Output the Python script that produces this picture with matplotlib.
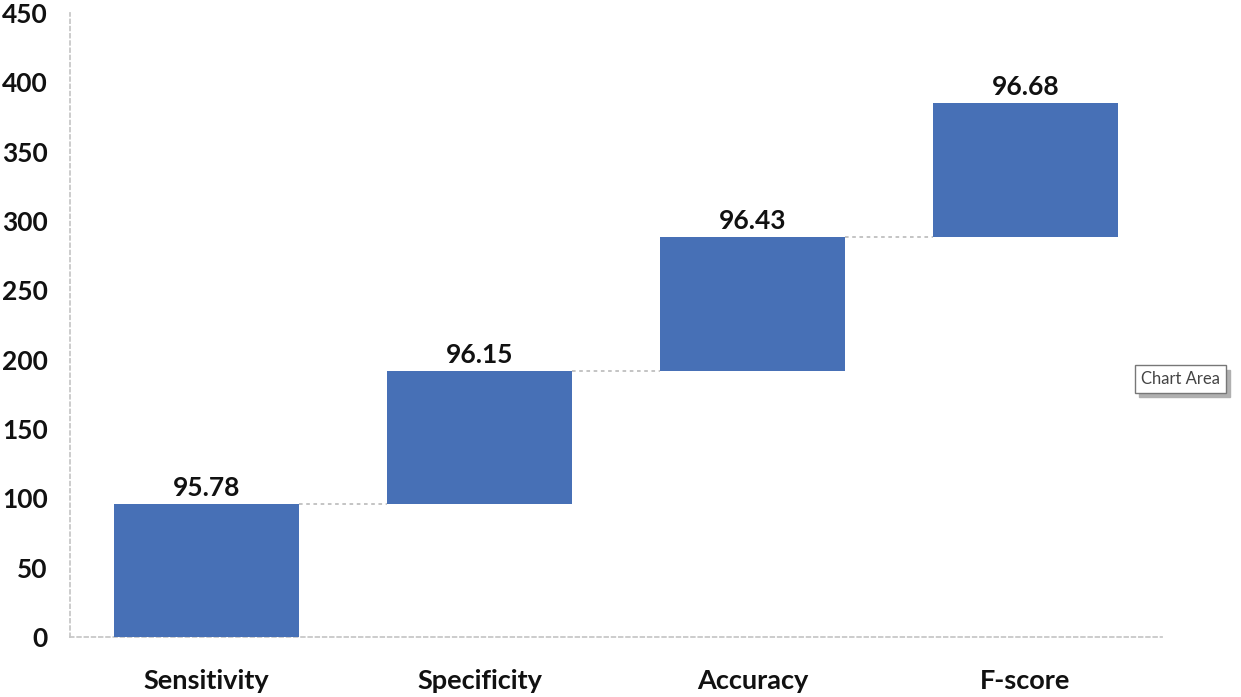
import matplotlib
matplotlib.use("Agg")
import matplotlib.pyplot as plt
import numpy as np

categories = ["Sensitivity", "Specificity", "Accuracy", "F-score"]
values = [95.78, 96.15, 96.43, 96.68]
yticks = [0, 50, 100, 150, 200, 250, 300, 350, 400, 450]

plt.rcParams['font.family'] = ['Lato', 'DejaVu Sans']

fig = plt.figure(figsize=(12.41, 6.97), dpi=100)
ax = fig.add_axes([0.0564, 0.0861, 0.88, 0.8952])

cum = np.cumsum(values)
bottoms = cum - np.array(values)
x = np.arange(len(categories))
width = 0.68
ax.bar(x, values, width=width, bottom=bottoms, color="#4770B6", zorder=3)

for i, (xi, top, v) in enumerate(zip(x, cum, values)):
    ax.text(xi, top + 3, f"{v:.2f}", ha="center", va="bottom",
            fontsize=19, fontweight="bold", color="#111111")
    if i < len(x) - 1:
        ax.plot([xi + width / 2, xi + 1 - width / 2], [top, top],
                linestyle=(0, (2, 2)), color="#BFBFBF", lw=1.3, zorder=2)

ax.set_xlim(-0.5, len(categories) - 0.5)
ax.set_ylim(0, 450)
ax.set_yticks(yticks)
ax.set_xticks(x)
ax.set_xticklabels(categories)
for lab in ax.get_yticklabels():
    lab.set_fontsize(19)
    lab.set_fontweight("bold")
    lab.set_color("#111111")
for lab in ax.get_xticklabels():
    lab.set_fontsize(19.5)
    lab.set_fontweight("bold")
    lab.set_color("#111111")
ax.tick_params(axis="both", length=0)
ax.tick_params(axis="y", pad=16)
ax.tick_params(axis="x", pad=23)

for s in ["top", "right"]:
    ax.spines[s].set_visible(False)
for s in ["left", "bottom"]:
    ax.spines[s].set_color("#C8C8C8")
    ax.spines[s].set_linestyle((0, (2, 2)))
    ax.spines[s].set_linewidth(1.3)

# tooltip with shadow
fig.text(0.9545, 0.450, "Chart Area", fontsize=12, color="#A0A0A0",
         ha="center", va="center", alpha=0.0,
         bbox=dict(boxstyle="square,pad=0.35", fc="#B0B0B0", ec="#B0B0B0", lw=1))
fig.text(0.9510, 0.456, "Chart Area", fontsize=12, color="#444444",
         ha="center", va="center",
         bbox=dict(boxstyle="square,pad=0.35", fc="white", ec="#777777", lw=1))

fig.savefig("out.png", dpi=100)
